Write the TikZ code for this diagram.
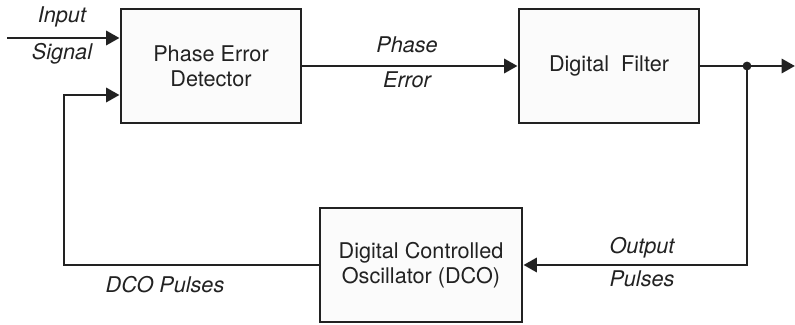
\documentclass[tikz,border=0pt]{standalone}
\usepackage{fontspec}
\setmainfont{TeX Gyre Heros}
\usepackage{tikz}
\usetikzlibrary{arrows.meta, positioning, calc}

\definecolor{ink}{HTML}{222222}
\definecolor{boxfill}{HTML}{FBFBFB}

\begin{document}
\begin{tikzpicture}[font=\fontsize{15.4}{18}\selectfont, line width=2.1pt, draw=ink, text=ink,
    block/.style={draw=ink, fill=boxfill, align=center, minimum height=2.85cm, inner sep=0pt},
    arr/.style={-{Triangle[length=9.5pt,width=10pt]}},
    sig/.style={font=\fontsize{15.4}{18}\selectfont\itshape}]
  \useasboundingbox (0,0) rectangle (19.875,-8.125);

  % blocks
  \node[block, minimum width=4.5cm]  (ped) at (5.275, -1.65)  {Phase Error\\Detector};
  \node[block, minimum width=4.5cm]  (df)  at (15.225,-1.65)  {Digital~~Filter};
  \node[block, minimum width=5.05cm] (dco) at (10.525,-6.625) {Digital Controlled\\Oscillator (DCO)};

  % end points of the loop
  \coordinate (in)  at (0.175,-0.95);
  \coordinate (fb)  at (1.6,  -2.375);
  \coordinate (tap) at (18.675,-1.65);
  \coordinate (out) at (19.875,-1.65);

  % forward path
  \draw[arr, draw=ink] (in) -- (in -| ped.west);
  \draw[arr, draw=ink] (ped.east) -- (df.west);
  \draw[arr, draw=ink] (df.east) -- (out);
  \fill[ink] (tap) circle (0.11);

  % feedback path
  \draw[arr, draw=ink] (tap) |- (dco.east);
  \draw[arr, draw=ink] (dco.west) -| (fb) -- (fb -| ped.west);

  % signal names
  \node[sig] (lin1) at (1.55, -0.43)  {Input};
  \node[sig] (lin2) at (1.55, -1.35)  {Signal};
  \node[sig] (ler1) at (10.175,-1.13) {Phase};
  \node[sig] (ler2) at (10.175,-2.0)  {Error};
  \node[sig] (lou1) at (16.05, -6.2)  {Output};
  \node[sig] (lou2) at (16.05, -6.98) {Pulses};
  \node[sig] (ldco) at (4.125, -7.12) {DCO Pulses};
\end{tikzpicture}
\end{document}
